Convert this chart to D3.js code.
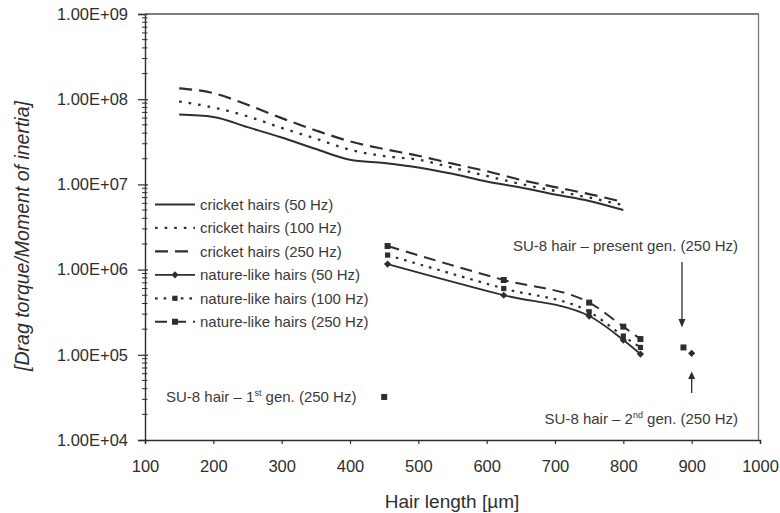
<!DOCTYPE html>
<html>
<head>
<meta charset="utf-8">
<script src="https://cdn.jsdelivr.net/npm/d3@7"></script>
<style>
  body { margin: 0; background: #fff; }
  svg { display: block; font-family: "Liberation Sans", Arial, Helvetica, sans-serif; }
</style>
</head>
<body>
<svg id="chart" width="780" height="513"></svg>
<script>
// Hair length [µm] for the modelled cricket hairs
const cricketLengths = [150, 200, 250, 300, 350, 400, 450, 500, 550, 600, 650, 700, 750, 800];
// Drag torque / moment of inertia for cricket hairs
const cricket50  = [6.6e7, 6.2e7, 4.7e7, 3.55e7, 2.6e7, 1.95e7, 1.78e7, 1.58e7, 1.33e7, 1.08e7, 9.2e6, 7.6e6, 6.4e6, 5.0e6];
const cricket100 = [9.4e7, 8.0e7, 6.3e7, 4.6e7, 3.45e7, 2.55e7, 2.15e7, 1.95e7, 1.57e7, 1.26e7, 1.01e7, 8.4e6, 7.0e6, 5.7e6];
const cricket250 = [1.34e8, 1.18e8, 8.6e7, 6.0e7, 4.3e7, 3.2e7, 2.6e7, 2.17e7, 1.75e7, 1.43e7, 1.13e7, 9.3e6, 7.7e6, 6.2e6];

// Nature-like hairs
const natureLengths = [455, 625, 750, 800, 825];
const nature50  = [1.16e6, 5.0e5, 2.85e5, 1.49e5, 1.02e5];
const nature100 = [1.48e6, 6.0e5, 3.2e5, 1.66e5, 1.22e5];
const nature250 = [1.89e6, 7.55e5, 4.1e5, 2.14e5, 1.53e5];

// Fabricated SU-8 hairs (250 Hz): 1st gen., present gen., 2nd gen.
const su8Names   = ["1st", "present", "2nd"];
const su8Lengths = [450, 888, 900];
const su8Values  = [3.2e4, 1.22e5, 1.04e5];

// Axis ticks
const xTicks = [100, 200, 300, 400, 500, 600, 700, 800, 900, 1000];
const yTicks = [1e4, 1e5, 1e6, 1e7, 1e8, 1e9];
const yTickLabels = ["1.00E+04", "1.00E+05", "1.00E+06", "1.00E+07", "1.00E+08", "1.00E+09"];

const legendLabels = [
  "cricket hairs (50 Hz)", "cricket hairs (100 Hz)", "cricket hairs (250 Hz)",
  "nature-like hairs (50 Hz)", "nature-like hairs (100 Hz)", "nature-like hairs (250 Hz)"
];

const ink = "#2e2e2e";
const svg = d3.select("#chart");

const x = d3.scaleLinear().domain([100, 1000]).range([145, 760]);
const y = d3.scaleLog().domain([1e4, 1e9]).range([440, 14]);

// line styles per series
const styles = [
  { dash: null,   width: 2.0, marker: null },
  { dash: "2.6,7", width: 2.3, marker: null },
  { dash: "13,7", width: 2.2, marker: null },
  { dash: null,   width: 1.8, marker: "diamond" },
  { dash: "2.6,6", width: 2.2, marker: "square-small" },
  { dash: "12,7", width: 2.0, marker: "square" }
];

// ---- axes ----
const xAxis = svg.append("g")
  .attr("transform", "translate(0,440)")
  .call(d3.axisBottom(x).tickValues(xTicks).tickSize(4).tickPadding(16).tickFormat(d => d));
xAxis.select(".domain").attr("stroke", ink).attr("stroke-width", 1.4);
xAxis.selectAll(".tick line").attr("stroke", ink).attr("stroke-width", 1.2);
xAxis.selectAll(".tick text").attr("fill", ink).style("font-size", "16.5px")
  .style("font-family", "\"Liberation Sans\", Arial, sans-serif");

const yAxis = svg.append("g")
  .attr("transform", "translate(145,0)")
  .call(d3.axisLeft(y).tickValues(yTicks).tickSize(7).tickPadding(10)
    .tickFormat((d, i) => yTickLabels[i]));
yAxis.select(".domain").attr("stroke", ink).attr("stroke-width", 1.4);
yAxis.selectAll(".tick line").attr("stroke", ink).attr("stroke-width", 1.2).attr("x2", 3).attr("x1", -7);
yAxis.selectAll(".tick text").attr("fill", ink).style("font-size", "16.5px")
  .style("font-family", "\"Liberation Sans\", Arial, sans-serif");

// minor log ticks (2..9 within each decade)
const minor = [];
for (let e = 4; e < 9; e++) for (let m = 2; m <= 9; m++) minor.push(m * Math.pow(10, e));
svg.append("g").selectAll("line").data(minor).join("line")
  .attr("x1", 142).attr("x2", 147.5)
  .attr("y1", d => y(d)).attr("y2", d => y(d))
  .attr("stroke", ink).attr("stroke-width", 1);

// frame top and right
svg.append("line").attr("x1", 145).attr("x2", 759).attr("y1", 14).attr("y2", 14)
  .attr("stroke", "#555").attr("stroke-width", 1.4);
svg.append("line").attr("x1", 758.5).attr("x2", 758.5).attr("y1", 14).attr("y2", 440)
  .attr("stroke", "#777").attr("stroke-width", 1.3);

// ---- axis titles ----
svg.append("text")
  .attr("x", 452).attr("y", 508).attr("text-anchor", "middle")
  .attr("fill", ink).style("font-size", "19px")
  .text("Hair length [µm]");

svg.append("text")
  .attr("transform", "translate(29,236) rotate(-90)")
  .attr("text-anchor", "middle").attr("fill", ink)
  .style("font-size", "19.5px").style("font-style", "italic")
  .text("[Drag torque/Moment of inertia]");

// ---- series ----
const line = d3.line().x(d => x(d[0])).y(d => y(d[1])).curve(d3.curveMonotoneX);

const series = [
  { xs: cricketLengths, ys: cricket50, s: styles[0] },
  { xs: cricketLengths, ys: cricket100, s: styles[1] },
  { xs: cricketLengths, ys: cricket250, s: styles[2] },
  { xs: natureLengths, ys: nature50, s: styles[3] },
  { xs: natureLengths, ys: nature100, s: styles[4] },
  { xs: natureLengths, ys: nature250, s: styles[5] }
];

function drawMarker(g, kind, cx, cy) {
  if (kind === "diamond") {
    g.append("path").attr("d", `M${cx},${cy - 3.6}L${cx + 3.6},${cy}L${cx},${cy + 3.6}L${cx - 3.6},${cy}Z`)
      .attr("fill", ink);
  } else if (kind === "square-small") {
    g.append("rect").attr("x", cx - 2.6).attr("y", cy - 2.6).attr("width", 5.2).attr("height", 5.2)
      .attr("fill", ink);
  } else if (kind === "square") {
    g.append("rect").attr("x", cx - 3).attr("y", cy - 3).attr("width", 6).attr("height", 6)
      .attr("fill", ink);
  }
}

const plot = svg.append("g");
series.forEach(sr => {
  const pts = sr.xs.map((v, i) => [v, sr.ys[i]]);
  plot.append("path").datum(pts).attr("d", line)
    .attr("fill", "none").attr("stroke", ink)
    .attr("stroke-width", sr.s.width)
    .attr("stroke-dasharray", sr.s.dash)
    .attr("stroke-linecap", "butt");
  if (sr.s.marker) pts.forEach(p => drawMarker(plot, sr.s.marker, x(p[0]), y(p[1])));
});

// SU-8 hair points
const su8Markers = ["square", "square", "diamond"];
su8Lengths.forEach((len, i) => drawMarker(plot, su8Markers[i], x(len), y(su8Values[i])));

// ---- annotations ----
function supLabel(xp, yp, anchor, before, sup, after) {
  const t = svg.append("text").attr("x", xp).attr("y", yp).attr("text-anchor", anchor)
    .attr("fill", "#3a3a3a").style("font-size", "15px");
  t.append("tspan").text(before);
  if (sup) {
    t.append("tspan").attr("dy", -6).style("font-size", "9px").text(sup);
    t.append("tspan").attr("dy", 6).text(after);
  }
  return t;
}
supLabel(166, 401.7, "start", "SU-8 hair – 1", "st", " gen. (250 Hz)");
supLabel(738, 250.5, "end", "SU-8 hair – present gen. (250 Hz)", null, null);
supLabel(738, 424, "end", "SU-8 hair – 2", "nd", " gen. (250 Hz)");

// arrow to the present-generation point
const ax1 = x(su8Lengths[1]) - 1.5;
svg.append("line").attr("x1", ax1).attr("x2", ax1).attr("y1", 262).attr("y2", 320)
  .attr("stroke", ink).attr("stroke-width", 1.3);
svg.append("path").attr("d", `M${ax1 - 3.5},319L${ax1 + 3.5},319L${ax1},327.5Z`).attr("fill", ink);

// arrow to the 2nd-generation point
const ax2 = x(su8Lengths[2]);
svg.append("line").attr("x1", ax2).attr("x2", ax2).attr("y1", 393).attr("y2", 378)
  .attr("stroke", ink).attr("stroke-width", 1.3);
svg.append("path").attr("d", `M${ax2 - 3.5},379L${ax2 + 3.5},379L${ax2},371.5Z`).attr("fill", ink);

// ---- legend ----
const legend = svg.append("g");
legendLabels.forEach((lab, i) => {
  const ly = 204.5 + i * 23.45;
  const s = styles[i];
  legend.append("line").attr("x1", 155).attr("x2", 195).attr("y1", ly).attr("y2", ly)
    .attr("stroke", ink).attr("stroke-width", s.width).attr("stroke-dasharray", s.dash);
  if (s.marker) drawMarker(legend, s.marker, 175, ly);
  legend.append("text").attr("x", 200).attr("y", ly + 5.3)
    .attr("fill", "#3a3a3a").style("font-size", "15px").text(lab);
});
</script>
</body>
</html>
